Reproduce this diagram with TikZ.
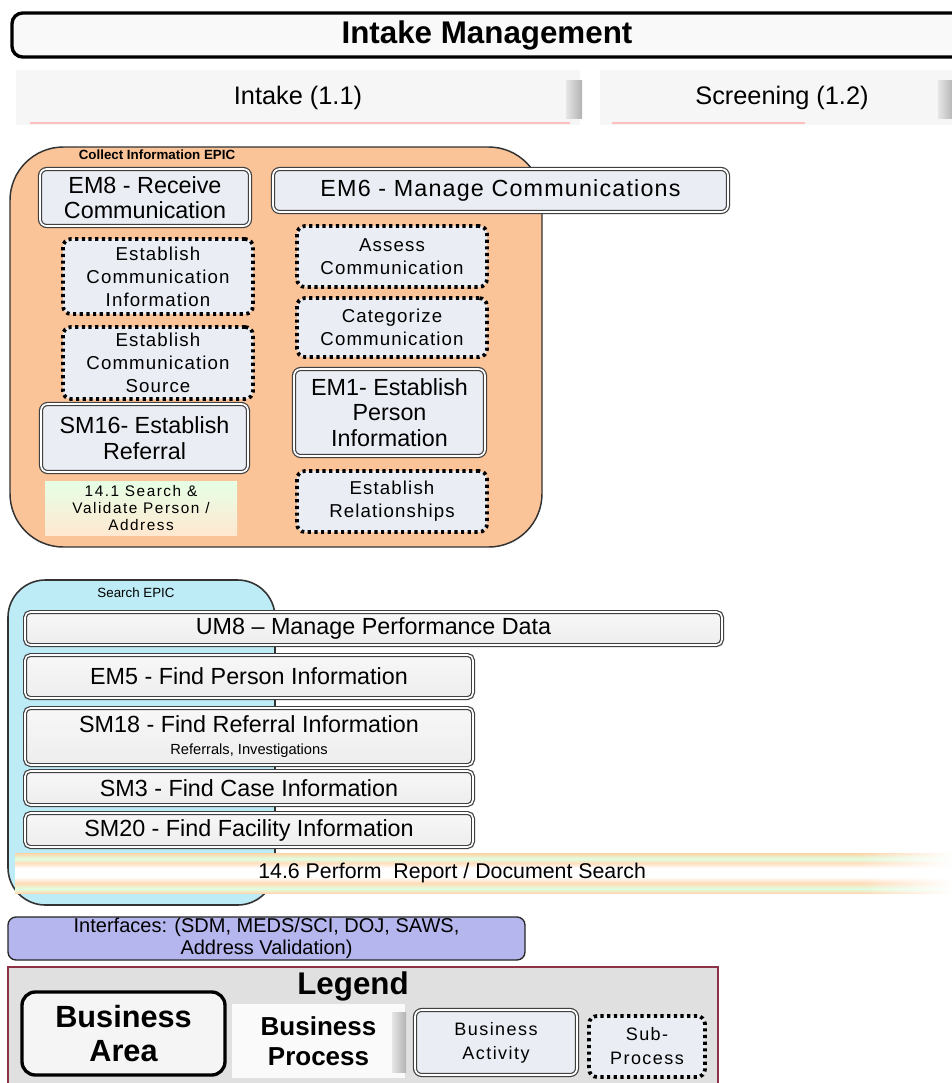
\documentclass[tikz,border=0pt]{standalone}
\usepackage{fontspec}
\setmainfont{Liberation Sans}
\newfontfamily\lsfont[LetterSpace=6]{Liberation Sans}
\newfontfamily\lsmfont[LetterSpace=5]{Liberation Sans}
\newfontfamily\lswfont[LetterSpace=10]{Liberation Sans}
\newfontfamily\lsbfont[LetterSpace=8]{Liberation Sans}
\usetikzlibrary{fadings}
\definecolor{boxfill}{RGB}{234,238,244}
\definecolor{peach}{RGB}{250,196,152}
\definecolor{skyb}{RGB}{190,236,246}
\definecolor{lavend}{RGB}{182,182,238}
\definecolor{leggray}{RGB}{224,224,224}
\definecolor{legred}{RGB}{140,50,70}
\pgfdeclareverticalshading{stripes}{100bp}{color(0bp)=(orange!30!white); color(25bp)=(orange!30!white); color(30bp)=(green!12!white); color(37.5bp)=(orange!28!white); color(45bp)=(white); color(56bp)=(white); color(62.5bp)=(orange!25!white); color(68bp)=(green!12!white); color(75bp)=(orange!35!white); color(100bp)=(orange!35!white)}
\newcommand\fs[2]{\fontsize{#1}{#2}\selectfont}
\newcommand\bxnode[7]{%
  \pgfmathsetmacro\bxw{(#5-#3)*0.75}%
  \pgfmathsetmacro\bxh{(#6-#4)*0.75}%
  \node[#1, minimum width=\bxw pt, minimum height=\bxh pt, inner sep=0pt] (#2) at ({(#3+#5)/2},{(#4+#6)/2}) {#7};}
\begin{document}
\begin{tikzpicture}[x=0.75pt,y=-0.75pt,
  act/.style={draw=black!75, double=white, double distance=1.3pt, line width=0.9pt, rounded corners=5pt, fill=boxfill, align=center, font=\fs{17.5}{19.2}},
  subproc/.style={draw=black, line width=2.8pt, dash pattern=on 2.4pt off 2.6pt, rounded corners=6pt, fill=boxfill, align=center, font=\lsfont\fs{14}{17.2}},
  bar/.style={draw=black!75, double=white, double distance=1.2pt, line width=0.9pt, rounded corners=4pt, top color=gray!6, bottom color=gray!14, align=center, font=\fs{17.5}{19}},
  proc/.style={fill=gray!7, align=center, font=\fs{19}{21}},
  tab/.style={left color=gray!20, right color=gray!60}
]
\useasboundingbox (0,0) rectangle (952,1083);
\fill[white] (0,0) rectangle (952,1083);

% title
\bxnode{draw, line width=2.5pt, rounded corners=8pt, fill=gray!5, font=\fs{23.5}{25}\bfseries}{title}{12}{13}{1000}{57}{\hspace*{-28.5pt}Intake Management}

% business processes
\bxnode{proc}{intake}{16}{70}{580}{125}{Intake (1.1)}
\fill[tab] (566,80) rectangle (582,118);
\bxnode{proc}{screen}{600}{70}{990}{125}{\hspace*{-19.5pt}Screening (1.2)}
\fill[tab] (938,80) rectangle (954,118);
\draw[red!25, line width=1pt] (30,123) -- (570,123) (612,123) -- (805,123);

% Collect Information EPIC
\draw[fill=peach, draw=black!80, line width=1.1pt, rounded corners=40pt] (10,147) rectangle (542,547);
\node[font=\fs{10}{11}\bfseries] (cie) at (157,155) {Collect Information EPIC};

\bxnode{act}{em8}{40}{169}{250}{226}{EM8 - Receive\\Communication}
\bxnode{act, font=\lsmfont\fs{17.5}{19}}{em6}{273}{169}{728}{212}{EM6 - Manage Communications}
\bxnode{subproc}{eci}{63}{239}{253}{314}{Establish\\Communication\\Information}
\bxnode{subproc}{ecs}{63}{327}{253}{399}{Establish\\Communication\\Source}
\bxnode{act}{sm16}{41}{404}{248}{472}{SM16- Establish\\Referral}
\bxnode{top color=green!10!white, bottom color=orange!18!white, align=center, font=\lswfont\fs{11.5}{12.4}}{s141}{45}{481}{237}{535}{14.1 Search \&\\Validate Person /\\Address}
\bxnode{subproc}{assess}{297}{226}{487}{287}{Assess\\Communication}
\bxnode{subproc}{categ}{297}{298}{487}{357}{Categorize\\Communication}
\bxnode{act}{em1}{294}{369}{485}{456}{EM1- Establish\\Person\\Information}
\bxnode{subproc}{estrel}{297}{471}{487}{532}{Establish\\Relationships}

% Search EPIC
\draw[fill=skyb, draw=black!80, line width=1.2pt, rounded corners=28pt] (8,580) rectangle (275,905);
\node[font=\fs{10}{11}] (sepic) at (136,593) {Search EPIC};
\bxnode{bar}{um8}{25}{612}{722}{645}{UM8 -- Manage Performance Data}
\bxnode{bar}{em5}{25}{655}{473}{698}{EM5 - Find Person Information}
\bxnode{bar}{sm18}{25}{708}{473}{765}{SM18 - Find Referral Information\\[-3pt]{\fs{11}{12}Referrals, Investigations}}
\bxnode{bar}{sm3}{25}{771}{473}{805}{SM3 - Find Case Information}
\bxnode{bar}{sm20}{25}{813}{473}{847}{SM20 - Find Facility Information}
\shade[shading=stripes] (15,853) rectangle (952,893);
\fill[white, path fading=west] (860,850) rectangle (952,896);
\bxnode{font=\fs{16}{18}}{s146}{15}{853}{952}{893}{\hspace*{-47pt}14.6 Perform\ \ Report / Document Search}

% Interfaces
\bxnode{draw=black!85, line width=1pt, rounded corners=6pt, fill=lavend, align=center, font=\fs{15}{16.5}}{intf}{8}{917}{525}{960}{Interfaces: (SDM, MEDS/SCI, DOJ, SAWS,\\Address Validation)}

% Legend
\draw[fill=leggray, draw=legred, line width=0.9pt] (8,967) rectangle (718,1095);
\node[font=\fs{23.5}{25}\bfseries] (legend) at (353,986) {Legend};
\bxnode{draw=black, line width=2.5pt, rounded corners=10pt, fill=gray!8, align=center, font=\fs{23}{25.5}\bfseries}{barea}{22}{992}{225}{1075}{Business\\Area}
\bxnode{fill=gray!4, align=center, font=\fs{19.5}{22.5}\bfseries}{bproc}{232}{1004}{405}{1078}{Business\\Process}
\fill[tab] (392,1012) rectangle (406,1072);
\bxnode{act, font=\lsbfont\fs{13.5}{18}}{bact}{415}{1010}{577}{1075}{Business\\Activity}
\bxnode{subproc, font=\lsbfont\fs{13.5}{18}}{sproc}{589}{1016}{705}{1077}{Sub-\\Process}
\end{tikzpicture}
\end{document}
